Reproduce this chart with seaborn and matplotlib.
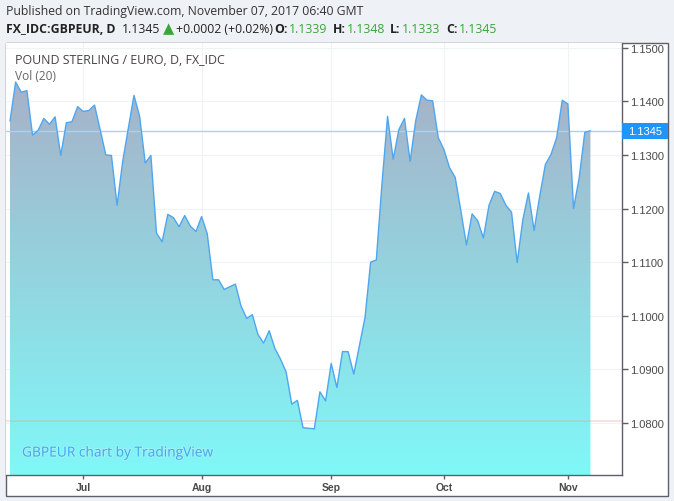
import numpy as np
import pandas as pd
import matplotlib
matplotlib.use("Agg")
import matplotlib.pyplot as plt
import matplotlib.colors as mcolors
import matplotlib.patheffects as pe
from matplotlib.patches import Rectangle
import seaborn as sns

# ---------------------
# Data (daily closes, GBPEUR)
# ---------------------
close = [
    1.1363, 1.1436, 1.1417, 1.1420, 1.1337, 1.1346, 1.1368, 1.1357, 1.1371, 1.1299,
    1.1360, 1.1362, 1.1390, 1.1381, 1.1383, 1.1393, 1.1347, 1.1300, 1.1299, 1.1206,
    1.1288, 1.1350, 1.1411, 1.1372, 1.1285, 1.1299, 1.1154, 1.1138, 1.1189, 1.1183,
    1.1166, 1.1187, 1.1167, 1.1157, 1.1185, 1.1153, 1.1067, 1.1067, 1.1049, 1.1054,
    1.1059, 1.1018, 1.0995, 1.1002, 1.0965, 1.0949, 1.0972, 1.0939, 1.0919, 1.0895,
    1.0835, 1.0842, 1.0791, 1.0790, 1.0789, 1.0858, 1.0841, 1.0911, 1.0866, 1.0933,
    1.0933, 1.0891, 1.0944, 1.0997, 1.1100, 1.1104, 1.1245, 1.1372, 1.1292, 1.1347,
    1.1368, 1.1288, 1.1364, 1.1412, 1.1402, 1.1401, 1.1332, 1.1310, 1.1276, 1.1258,
    1.1196, 1.1132, 1.1190, 1.1177, 1.1145, 1.1206, 1.1232, 1.1228, 1.1206, 1.1193,
    1.1099, 1.1179, 1.1229, 1.1159, 1.1223, 1.1282, 1.1301, 1.1332, 1.1402, 1.1395,
    1.1200, 1.1257, 1.1342, 1.1345,
]
month_labels = ["Jul", "Aug", "Sep", "Oct", "Nov"]
month_bars = [13, 34, 57, 77, 99]
price_ticks = [1.08, 1.09, 1.10, 1.11, 1.12, 1.13, 1.14, 1.15]
last_price = 1.1345
vol_level = 1.0804
ohlc_labels = ["O:", "H:", "L:", "C:"]
ohlc_values = ["1.1339", "1.1348", "1.1333", "1.1345"]

df = pd.DataFrame({"bar": np.arange(len(close)), "close": close})

sns.set_style("white")
plt.rcParams["font.family"] = ["Open Sans", "DejaVu Sans"]

W, H = 674, 502
fig = plt.figure(figsize=(W / 100, H / 100), dpi=100)
fig.patch.set_facecolor("#eef2f7")


def fx(px):
    return px / W


def fy(py):
    return 1 - py / H


# chart container (behind the axes)
frame = Rectangle((fx(6), fy(497)), fx(668) - fx(6), fy(44) - fy(497),
                  transform=fig.transFigure, facecolor="white",
                  edgecolor="#5d606b", lw=1, zorder=-5)
fig.patches.append(frame)

ax = fig.add_axes([fx(6), fy(476), fx(622) - fx(6), fy(44) - fy(476)])
ax.set_facecolor("white")
ax.set_zorder(2)

ylo, yhi = 1.07028, 1.15088
xlo, xhi = -0.71, 108.6

# ---------------------
# Gradient area
# ---------------------
poly = ax.fill_between(df["bar"], df["close"], ylo, color="none", lw=0)
top_c = np.array(mcolors.to_rgb("#a7b1c7"))
bot_c = np.array(mcolors.to_rgb("#80f8f8"))
t = np.linspace(0, 1, 256)[:, None]
grad = (top_c * (1 - t) + bot_c * t)[:, None, :]
im = ax.imshow(grad, extent=[0, len(close) - 1, ylo, max(close)],
               aspect="auto", origin="upper", zorder=1)
im.set_clip_path(poly.get_paths()[0], transform=ax.transData)

ax.axhline(vol_level, color="#d9a58a", alpha=0.35, lw=1.2, zorder=2)
ax.axhline(last_price, color="#a6d4f7", lw=1, zorder=2)

sns.lineplot(data=df, x="bar", y="close", color="#4ea6f1", lw=1.0, ax=ax, zorder=3)

ax.set_xlim(xlo, xhi)
ax.set_ylim(ylo, yhi)
ax.set_xlabel("")
ax.set_ylabel("")

# ---------------------
# Axes styling
# ---------------------
ax.yaxis.tick_right()
ax.set_yticks(price_ticks)
ax.set_yticklabels([f"{v:.4f}" for v in price_ticks])
ax.set_xticks(month_bars)
ax.set_xticklabels(month_labels)
ax.tick_params(axis="y", direction="out", length=4, width=1, color="#5d606b",
               labelsize=8, labelcolor="#4a4a4a", pad=2, right=True, left=False)
ax.tick_params(axis="x", direction="out", length=3, width=1, color="#5d606b",
               labelsize=7.5, labelcolor="#4a4a4a", pad=2, bottom=True)
for lab in ax.get_yticklabels() + ax.get_xticklabels():
    lab.set_family(["Liberation Sans", "DejaVu Sans"])
for lab in ax.get_xticklabels():
    lab.set_fontweight("bold")

ax.grid(True, color="#eef3f7", lw=0.8)
ax.set_axisbelow(True)
for side in ["left", "top"]:
    ax.spines[side].set_visible(False)
for side in ["right", "bottom"]:
    ax.spines[side].set_color("#5d606b")
    ax.spines[side].set_linewidth(1)

# last price label
ax.add_patch(Rectangle((1.0, last_price - 0.0015), 46 / 616, 0.003,
                       transform=ax.get_yaxis_transform(), clip_on=False,
                       facecolor="#1e95fb", edgecolor="none", zorder=5))
ax.text(1.0 + 6 / 616, last_price, f"{last_price:.4f}", transform=ax.get_yaxis_transform(),
        color="white", fontsize=8, va="center", ha="left", zorder=6,
        family=["Liberation Sans", "DejaVu Sans"])

# ---------------------
# Texts
# ---------------------
ax.text(9 / 616, 1 - 17 / 432, "POUND STERLING / EURO, D, FX_IDC", transform=ax.transAxes,
        color="#444444", fontsize=8.9, va="center", ha="left")
ax.text(9 / 616, 1 - 33 / 432, "Vol (20)", transform=ax.transAxes,
        color="#666666", fontsize=8.6, va="center", ha="left")
ax.text(16 / 616, 1 - 410 / 432, "GBPEUR chart by TradingView", transform=ax.transAxes,
        color="#3aaeec", fontsize=9.9, va="center", ha="left", zorder=6,
        path_effects=[pe.withStroke(linewidth=1.4, foreground="#bdeefb", alpha=0.6)])

fig.text(fx(6), fy(11), "Published on TradingView.com, November 07, 2017 06:40 GMT",
         color="#333333", fontsize=8.8, va="center", ha="left")

renderer = fig.canvas.get_renderer()
green = "#3aa63a"
dark = "#222222"
parts = [
    ("FX_IDC:GBPEUR, D", dark, "bold", 6, 8.8),
    ("1.1345", dark, "normal", 3, 8.8),
    ("▲", green, "normal", 2, 10.5),
    ("+0.0002 (+0.02%)", dark, "normal", 0, 8.8),
]
x = 6
for s, c, w, gap, fs in parts:
    tx = fig.text(fx(x), fy(30), s, color=c, fontweight=w, fontsize=fs,
                  va="center", ha="left")
    bb = tx.get_window_extent(renderer)
    x = x + bb.width + gap

for lab, val, x0 in zip(ohlc_labels, ohlc_values, [274, 333, 390, 446]):
    tx = fig.text(fx(x0), fy(30), lab, color=dark, fontweight="bold", fontsize=8.8,
                  va="center", ha="left")
    bb = tx.get_window_extent(renderer)
    fig.text(fx(x0 + bb.width + 1), fy(30), val, color=green, fontsize=8.8,
             va="center", ha="left")

fig.savefig("out.png", dpi=100, facecolor=fig.get_facecolor())
